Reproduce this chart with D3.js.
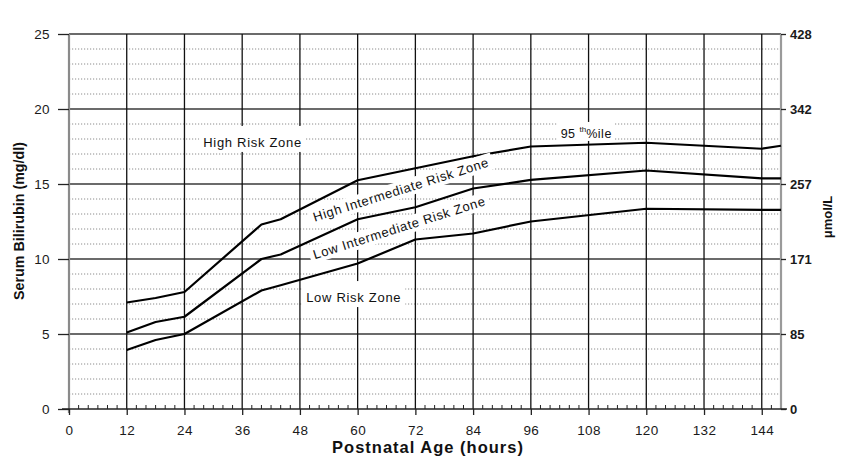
<!DOCTYPE html>
<html><head><meta charset="utf-8">
<script src="https://cdn.jsdelivr.net/npm/d3@7"></script>
<style>
body{margin:0;background:#fff;}
svg{display:block;font-family:"Liberation Sans",Arial,Helvetica,sans-serif;}
</style>
</head><body>
<svg id="c" width="846" height="468"></svg>
<script>
// ---- data ----
const hours = [12, 18, 24, 40, 44, 60, 72, 84, 96, 120, 144, 148];
const p95 = [7.1, 7.4, 7.8, 12.3, 12.65, 15.25, 16.05, 16.85, 17.5, 17.75, 17.35, 17.55];
const p75 = [5.1, 5.8, 6.15, 10.0, 10.3, 12.65, 13.45, 14.7, 15.27, 15.9, 15.38, 15.38];
const p40 = [3.93, 4.6, 5.0, 7.9, 8.25, 9.7, 11.3, 11.7, 12.5, 13.35, 13.27, 13.27];
const xTicks = [0, 12, 24, 36, 48, 60, 72, 84, 96, 108, 120, 132, 144];
const yTicksLeft = [0, 5, 10, 15, 20, 25];
const yTicksRight = ["0", "85", "171", "257", "342", "428"];
const zoneLabels = ["High Risk Zone", "High Intermediate Risk Zone", "Low Intermediate Risk Zone", "Low Risk Zone"];
const pctLabel = ["95 ", "th", "%ile"];
const xTitle = "Postnatal Age (hours)";
const yTitleLeft = "Serum Bilirubin (mg/dl)";
const yTitleRight = "\u03bcmol/L";

// ---- drawing ----
const svg = d3.select("#c");
const x = d3.scaleLinear().domain([0, 148]).range([69, 781]);
const y = d3.scaleLinear().domain([0, 25]).range([409, 34]);

const grid = svg.append("g");
// dotted minor horizontals
grid.selectAll("line.minor").data(d3.range(1, 25).filter(v => v % 5 !== 0)).join("line")
  .attr("x1", x(0)).attr("x2", x(148))
  .attr("y1", d => y(d)).attr("y2", d => y(d))
  .attr("stroke", "#8c8c8c").attr("stroke-width", 1).attr("stroke-dasharray", "1.2,1.8");
// major horizontals
grid.selectAll("line.major").data([5, 10, 15, 20, 25]).join("line")
  .attr("x1", x(0)).attr("x2", x(148))
  .attr("y1", d => y(d)).attr("y2", d => y(d))
  .attr("stroke", "#3a3a3a").attr("stroke-width", 1.3);
// verticals
grid.selectAll("line.vert").data(xTicks.filter(d => d > 0)).join("line")
  .attr("x1", d => x(d)).attr("x2", d => x(d))
  .attr("y1", y(25)).attr("y2", y(0))
  .attr("stroke", "#111").attr("stroke-width", 1.3);
// left and right borders
grid.append("line").attr("x1", x(0)).attr("x2", x(0)).attr("y1", y(25)).attr("y2", y(0) + 4)
  .attr("stroke", "#8a8a8a").attr("stroke-width", 2.2);
grid.append("line").attr("x1", x(148)).attr("x2", x(148)).attr("y1", y(25)).attr("y2", y(0))
  .attr("stroke", "#9a9a9a").attr("stroke-width", 2.2);
// minor x ticks every 2 hours
grid.selectAll("line.mt").data(d3.range(2, 148, 2).filter(d => d % 12 !== 0)).join("line")
  .attr("x1", d => x(d)).attr("x2", d => x(d))
  .attr("y1", y(0)).attr("y2", y(0) - 4)
  .attr("stroke", "#222").attr("stroke-width", 1);
// bottom axis line
grid.append("line").attr("x1", 62).attr("x2", 787).attr("y1", y(0)).attr("y2", y(0))
  .attr("stroke", "#222").attr("stroke-width", 1.5);

// curves
const line = d3.line().x(d => x(d[0])).y(d => y(d[1]));
[p95, p75, p40].forEach(s => {
  svg.append("path").datum(hours.map((h, i) => [h, s[i]]))
    .attr("d", line).attr("fill", "none").attr("stroke", "#000")
    .attr("stroke-width", 2.2).attr("stroke-linejoin", "round");
});

// axes
const xAxis = svg.append("g").attr("transform", `translate(0,${y(0)})`)
  .call(d3.axisBottom(x).tickValues(xTicks).tickSize(6).tickPadding(10));
const yAxisL = svg.append("g").attr("transform", `translate(${x(0)},0)`)
  .call(d3.axisLeft(y).tickValues(yTicksLeft).tickSize(11).tickPadding(8));
const yAxisR = svg.append("g").attr("transform", `translate(${x(148)},0)`)
  .call(d3.axisRight(y).tickValues(yTicksLeft).tickFormat((d, i) => yTicksRight[i]).tickSize(5).tickPadding(4));
[xAxis, yAxisL, yAxisR].forEach(a => {
  a.select(".domain").remove();
  a.selectAll(".tick line").attr("stroke", "#222").attr("stroke-width", 1.3);
  a.selectAll(".tick text").attr("fill", "#1a1a1a").style("font-family", "Liberation Sans, Arial, sans-serif");
});
xAxis.selectAll(".tick text").style("font-size", "13.5px").style("letter-spacing", "0.4px");
yAxisL.selectAll(".tick text").style("font-size", "13.5px").style("letter-spacing", "0.4px");
yAxisR.selectAll(".tick text").style("font-size", "13px").style("font-weight", "bold");

// axis titles
svg.append("text").attr("x", 428).attr("y", 453).attr("text-anchor", "middle")
  .style("font-size", "16.5px").style("font-weight", "bold").style("letter-spacing", "1px")
  .attr("fill", "#111").text(xTitle);
svg.append("text").attr("transform", "translate(24,221) rotate(-90)").attr("text-anchor", "middle")
  .style("font-size", "14.3px").style("font-weight", "bold").attr("fill", "#111").text(yTitleLeft);
svg.append("text").attr("transform", "translate(832,217) rotate(-90)").attr("text-anchor", "middle")
  .style("font-size", "13px").style("font-weight", "bold").attr("fill", "#111").text(yTitleRight);

// zone labels with white backgrounds
function label(txt, hx, vy, angle, up, down) {
  const g = svg.append("g").attr("transform", `translate(${x(hx)},${y(vy)}) rotate(${angle})`);
  const rect = g.append("rect").attr("fill", "#fff");
  const t = g.append("text").attr("x", 0).attr("y", 0)
    .style("font-size", "13px").style("letter-spacing", "0.7px").attr("fill", "#111").text(txt);
  const b = t.node().getBBox();
  rect.attr("x", b.x - 4).attr("y", -up).attr("width", b.width + 8).attr("height", up + down);
  return g;
}
label(zoneLabels[0], 27.9, 17.47, 0, 21, 5);
label(zoneLabels[3], 49.3, 7.13, 0, 21, 5);
label(zoneLabels[1], 51.1, 12.49, -17.6, 13, 4);
label(zoneLabels[2], 51.1, 9.98, -17.6, 13, 4);

// 95th percentile label
const g95 = svg.append("g").attr("transform", `translate(${x(102.2)},${y(18.07)})`);
const r95 = g95.append("rect").attr("fill", "#fff");
const t95 = g95.append("text").style("font-size", "12.5px").style("letter-spacing", "0.5px").attr("fill", "#111");
t95.append("tspan").text(pctLabel[0]);
t95.append("tspan").attr("dy", -6).style("font-size", "8px").style("letter-spacing", "0px").text(pctLabel[1]);
t95.append("tspan").attr("dy", 6).text(pctLabel[2]);
const b95 = t95.node().getBBox();
r95.attr("x", b95.x - 3).attr("y", -16).attr("width", b95.width + 6).attr("height", 19);
</script>
</body></html>
